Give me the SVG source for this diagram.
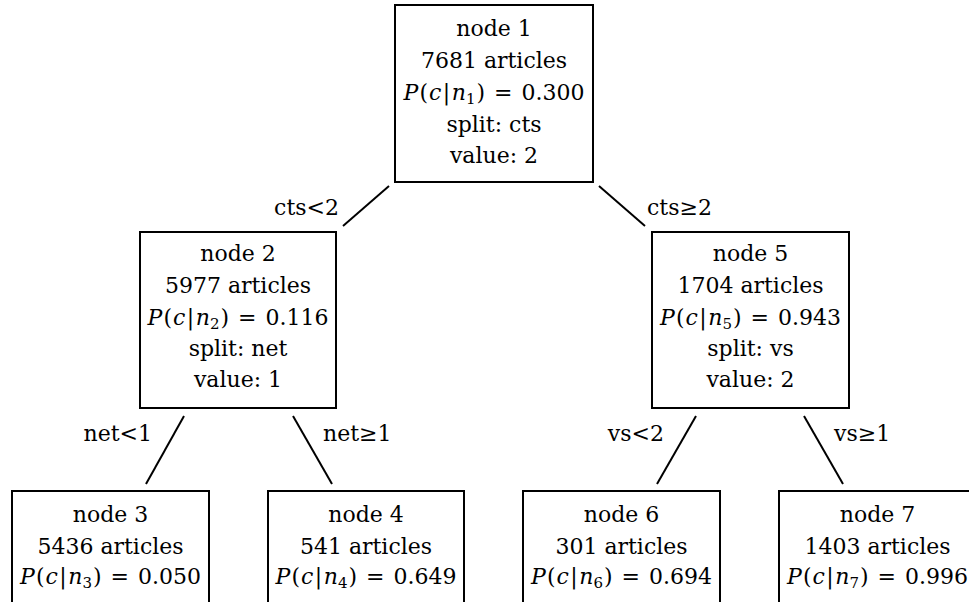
<svg xmlns="http://www.w3.org/2000/svg" width="969" height="602" viewBox="0 0 969 602">
<style>
  .box { fill: #ffffff; stroke: #000000; stroke-width: 2; }
  .edge { stroke: #000000; stroke-width: 2; fill: none; }
  text { font-family: "DejaVu Serif", "Liberation Serif", serif; font-size: 22px; fill: #000000; }
  .c { text-anchor: middle; }
  .l { text-anchor: end; }
  .r { text-anchor: start; }
  .i { font-style: italic; }
  .sub { font-size: 15px; }
</style>
<rect width="969" height="602" fill="#ffffff"/>
<g id="connectors">
  <line class="edge" x1="389" y1="186" x2="343" y2="226"/>
  <line class="edge" x1="599" y1="186" x2="645" y2="226"/>
  <line class="edge" x1="184" y1="416" x2="146" y2="484"/>
  <line class="edge" x1="293" y1="416" x2="332" y2="484"/>
  <line class="edge" x1="696" y1="416" x2="657" y2="484"/>
  <line class="edge" x1="804" y1="416" x2="843" y2="484"/>
  <text class="l" x="339" y="215">cts&lt;2</text>
  <text class="r" x="647" y="215">cts≥2</text>
  <text class="l" x="152" y="441">net&lt;1</text>
  <text class="r" x="323" y="441">net≥1</text>
  <text class="l" x="664" y="441">vs&lt;2</text>
  <text class="r" x="834" y="441">vs≥1</text>
</g>
<g id="node1">
  <rect class="box" x="395" y="5" width="198" height="177"/>
  <text class="c" x="494" y="36">node 1</text>
  <text class="c" x="494" y="68">7681 articles</text>
  <text class="c" x="494" y="100"><tspan class="i">P</tspan><tspan dx="1">(</tspan><tspan class="i" dx="1">c</tspan><tspan dx="1.5">|</tspan><tspan class="i" dx="1.5">n</tspan><tspan class="sub" dy="4">1</tspan><tspan dy="-4" dx="1">)</tspan><tspan dx="2"> = </tspan><tspan dx="2">0.300</tspan></text>
  <text class="c" x="494" y="131.5">split: cts</text>
  <text class="c" x="494" y="163">value: 2</text>
</g>
<g id="node2">
  <rect class="box" x="140" y="232" width="196" height="176"/>
  <text class="c" x="238" y="261">node 2</text>
  <text class="c" x="238" y="293">5977 articles</text>
  <text class="c" x="238" y="324.5"><tspan class="i">P</tspan><tspan dx="1">(</tspan><tspan class="i" dx="1">c</tspan><tspan dx="1.5">|</tspan><tspan class="i" dx="1.5">n</tspan><tspan class="sub" dy="4">2</tspan><tspan dy="-4" dx="1">)</tspan><tspan dx="2"> = </tspan><tspan dx="2">0.116</tspan></text>
  <text class="c" x="238" y="356">split: net</text>
  <text class="c" x="238" y="387">value: 1</text>
</g>
<g id="node5">
  <rect class="box" x="652" y="232" width="197" height="176"/>
  <text class="c" x="750.5" y="261">node 5</text>
  <text class="c" x="750.5" y="293">1704 articles</text>
  <text class="c" x="750.5" y="324.5"><tspan class="i">P</tspan><tspan dx="1">(</tspan><tspan class="i" dx="1">c</tspan><tspan dx="1.5">|</tspan><tspan class="i" dx="1.5">n</tspan><tspan class="sub" dy="4">5</tspan><tspan dy="-4" dx="1">)</tspan><tspan dx="2"> = </tspan><tspan dx="2">0.943</tspan></text>
  <text class="c" x="750.5" y="356">split: vs</text>
  <text class="c" x="750.5" y="387">value: 2</text>
</g>
<g id="node3">
  <rect class="box" x="12" y="491" width="197" height="176"/>
  <text class="c" x="110.5" y="521.5">node 3</text>
  <text class="c" x="110.5" y="554">5436 articles</text>
  <text class="c" x="110.5" y="584"><tspan class="i">P</tspan><tspan dx="1">(</tspan><tspan class="i" dx="1">c</tspan><tspan dx="1.5">|</tspan><tspan class="i" dx="1.5">n</tspan><tspan class="sub" dy="4">3</tspan><tspan dy="-4" dx="1">)</tspan><tspan dx="2"> = </tspan><tspan dx="2">0.050</tspan></text>
</g>
<g id="node4">
  <rect class="box" x="268" y="491" width="196" height="176"/>
  <text class="c" x="366" y="521.5">node 4</text>
  <text class="c" x="366" y="554">541 articles</text>
  <text class="c" x="366" y="584"><tspan class="i">P</tspan><tspan dx="1">(</tspan><tspan class="i" dx="1">c</tspan><tspan dx="1.5">|</tspan><tspan class="i" dx="1.5">n</tspan><tspan class="sub" dy="4">4</tspan><tspan dy="-4" dx="1">)</tspan><tspan dx="2"> = </tspan><tspan dx="2">0.649</tspan></text>
</g>
<g id="node6">
  <rect class="box" x="523" y="491" width="197" height="176"/>
  <text class="c" x="621.5" y="521.5">node 6</text>
  <text class="c" x="621.5" y="554">301 articles</text>
  <text class="c" x="621.5" y="584"><tspan class="i">P</tspan><tspan dx="1">(</tspan><tspan class="i" dx="1">c</tspan><tspan dx="1.5">|</tspan><tspan class="i" dx="1.5">n</tspan><tspan class="sub" dy="4">6</tspan><tspan dy="-4" dx="1">)</tspan><tspan dx="2"> = </tspan><tspan dx="2">0.694</tspan></text>
</g>
<g id="node7">
  <rect class="box" x="779" y="491" width="197" height="176"/>
  <text class="c" x="877.5" y="521.5">node 7</text>
  <text class="c" x="877.5" y="554">1403 articles</text>
  <text class="c" x="877.5" y="584"><tspan class="i">P</tspan><tspan dx="1">(</tspan><tspan class="i" dx="1">c</tspan><tspan dx="1.5">|</tspan><tspan class="i" dx="1.5">n</tspan><tspan class="sub" dy="4">7</tspan><tspan dy="-4" dx="1">)</tspan><tspan dx="2"> = </tspan><tspan dx="2">0.996</tspan></text>
</g>
</svg>
